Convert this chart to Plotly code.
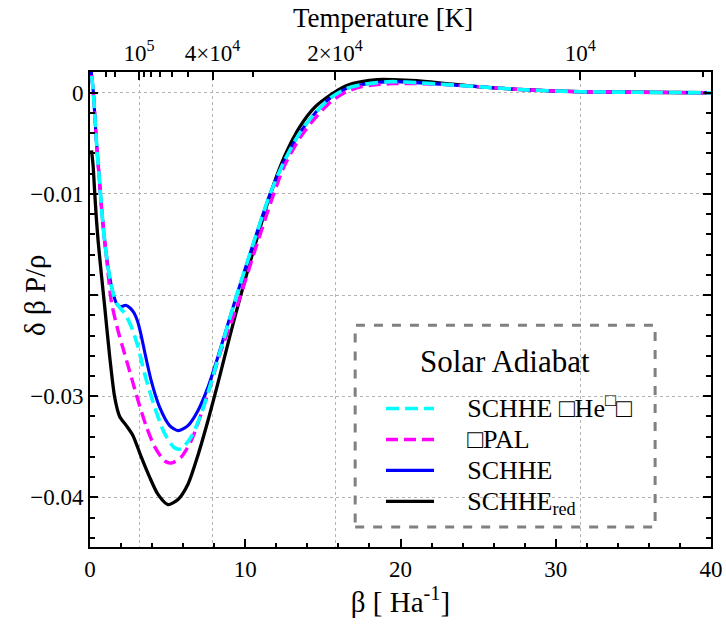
import plotly.graph_objects as go

# ---------------- data ----------------
beta_black = [0.1, 0.2, 0.3, 0.4, 0.52, 0.73, 0.95, 1.27, 1.59, 1.91, 2.34, 2.77, 3.3, 3.84, 4.38,
              5.02, 5.67, 6.31, 6.96, 7.6, 8.24, 9.0, 9.66, 10.6, 11.6, 12.5, 13.5, 14.5, 15.5,
              16.5, 17.5, 18.5, 19.5, 21, 23, 25, 28, 31.6, 35, 40]
y_black = [-0.0057, -0.0072, -0.0098, -0.0122, -0.0146, -0.0179, -0.0212, -0.0261, -0.0301, -0.0320,
           -0.0329, -0.0339, -0.0360, -0.0380, -0.0397, -0.0407, -0.0402, -0.0387, -0.0358, -0.0324,
           -0.0287, -0.0241, -0.0203, -0.0152, -0.0101, -0.0064, -0.0034, -0.0014, -0.0002,
           0.0007, 0.0011, 0.0013, 0.0013, 0.0012, 0.0009, 0.0006, 0.0003, 0.0001, 0.00005, 0.0]

beta_blue = [0.02, 0.1, 0.2, 0.3, 0.4, 0.5, 0.6, 0.75, 0.9, 1.1, 1.3, 1.5, 1.7, 1.85, 2.1, 2.3,
             2.6, 2.85, 3.09, 3.3, 3.52, 3.95, 4.49, 5.13, 5.67, 6.31, 6.96, 7.6, 8.24, 9.45,
             10.5, 11.6, 12.5, 13.5, 14.5, 15.5, 16.5, 17.5, 18.5, 19.5, 21, 23, 25, 28, 31.6, 35, 40]
y_blue = [0.0035, 0.0018, 0.0003, -0.0020, -0.0045, -0.0066, -0.0085, -0.0115, -0.0140, -0.0166,
          -0.0185, -0.0199, -0.0208, -0.0211, -0.0211, -0.0210, -0.0213, -0.0218, -0.0227, -0.0240,
          -0.0256, -0.0285, -0.0311, -0.0329, -0.0334, -0.0329, -0.0314, -0.0291, -0.0261, -0.0200,
          -0.0150, -0.0100, -0.0068, -0.0040, -0.0020, -0.0005, 0.0004, 0.0008, 0.0010, 0.0011,
          0.0010, 0.0008, 0.0006, 0.0003, 0.0001, 0.00005, 0.0]

beta_cyan = [0.02, 0.1, 0.2, 0.3, 0.4, 0.5, 0.6, 0.75, 0.9, 1.1, 1.3, 1.5, 1.7, 1.85, 2.0, 2.23,
             2.66, 3.09, 3.52, 4.17, 4.81, 5.45, 5.88, 6.52, 7.17, 7.81, 8.24, 9.45, 10.5, 11.6,
             12.5, 13.5, 14.5, 15.5, 16.5, 17.5, 18.5, 19.5, 21, 23, 25, 28, 31.6, 35, 40]
y_cyan = [0.0035, 0.0018, 0.0003, -0.0020, -0.0045, -0.0066, -0.0085, -0.0115, -0.0140, -0.0166,
          -0.0185, -0.0199, -0.0208, -0.0211, -0.0214, -0.0218, -0.0231, -0.0251, -0.0278, -0.0311,
          -0.0337, -0.0351, -0.0352, -0.0340, -0.0317, -0.0286, -0.0263, -0.0200, -0.0150, -0.0100,
          -0.0068, -0.0040, -0.0020, -0.0005, 0.0004, 0.0008, 0.0010, 0.0011, 0.0010, 0.0008,
          0.0006, 0.0003, 0.0001, 0.00005, 0.0]

beta_mag = [0.02, 0.1, 0.2, 0.3, 0.4, 0.5, 0.6, 0.75, 0.9, 1.1, 1.37, 1.8, 2.23, 2.66, 3.09, 3.63,
            4.17, 4.81, 5.24, 5.88, 6.52, 7.17, 7.81, 8.35, 9.6, 10.6, 11.7, 12.5, 13.5, 14.5,
            15.5, 16.5, 17.5, 18.5, 19.5, 21, 23, 25, 28, 31.6, 35, 40]
y_mag = [0.0035, 0.0018, 0.0003, -0.0020, -0.0045, -0.0066, -0.0085, -0.0115, -0.0140, -0.0168,
         -0.0206, -0.0235, -0.0258, -0.0281, -0.0304, -0.0330, -0.0350, -0.0364, -0.0366, -0.0360,
         -0.0344, -0.0317, -0.0287, -0.0259, -0.0205, -0.0157, -0.0106, -0.0073, -0.0045, -0.0025,
         -0.0009, 0.0001, 0.0006, 0.0008, 0.0009, 0.0009, 0.0008, 0.0006, 0.0003, 0.0001, 0.00005, 0.0]

names = ["SCHHE<sub>red</sub>", "SCHHE", "□PAL", "SCHHE □He<sup>□</sup>□"]
colors = ["black", "#0000ff", "#ff00ff", "#00ffff"]
legend_title = "Solar Adiabat"

x_ticks = [0, 10, 20, 30, 40]
y_ticks = [0, -0.01, -0.02, -0.03, -0.04]
y_ticktext = ["0", "−0.01", "", "−0.03", "−0.04"]

HA_IN_K = 315775.0  # 1 Ha / k_B in kelvin (beta = HA_IN_K / T)
T_major = [1e5, 4e4, 2e4, 1e4]
T_major_text = ["10<sup>5</sup>", "4×10<sup>4</sup>", "2×10<sup>4</sup>", "10<sup>4</sup>"]
T_minor = [3e5, 2e5, 9e4, 8e4, 7e4, 6e4, 5e4, 3e4, 9e3, 8e3]

FONT = "Liberation Serif, Times New Roman, Times, serif"
PAD = "\u2003\u200a"  # gap between legend line sample and label

fig = go.Figure()
series = [(beta_black, y_black, 3.3, "solid"),
          (beta_blue, y_blue, 3.1, "solid"),
          (beta_mag, y_mag, 3.4, "12px,6px"),
          (beta_cyan, y_cyan, 3.6, "13px,6px")]
for (bx, by, w, d), n, c in zip(series, names, colors):
    fig.add_trace(go.Scatter(x=bx, y=by, mode="lines",
                             name='<span style="font-size:26px">' + PAD + n + "</span>",
                             line=dict(color=c, width=w, dash=d, shape="spline", smoothing=0.7)))

# invisible trace to activate the top temperature axis
fig.add_trace(go.Scatter(x=[0, 40], y=[0, 0], xaxis="x2", mode="lines",
                         line=dict(width=0), showlegend=False, hoverinfo="skip", opacity=0))

axis_common = dict(showline=True, linecolor="black", linewidth=2, ticks="inside", automargin=False,
                   tickcolor="black", tickwidth=1.5, tickfont=dict(family=FONT, size=23, color="black"))

fig.update_layout(
    width=726, height=626,
    margin=dict(l=90, r=15, t=72, b=79),
    paper_bgcolor="white", plot_bgcolor="white",
    font=dict(family=FONT, color="black"),
    xaxis=dict(range=[0, 40], tickvals=x_ticks, ticklen=8, showgrid=False, zeroline=False,
               minor=dict(dtick=2, ticklen=4, ticks="inside", tickcolor="black", tickwidth=1.5),
               title=dict(text="β [ Ha<sup>-1</sup>]", font=dict(family=FONT, size=29), standoff=10),
               **axis_common),
    xaxis2=dict(range=[0, 40], overlaying="x", side="top", anchor="y",
                tickmode="array", tickvals=[HA_IN_K / t for t in T_major], ticktext=T_major_text,
                ticklen=8, showgrid=True, gridcolor="#b4b4b4", griddash="dot", gridwidth=1,
                zeroline=False,
                minor=dict(tickvals=[HA_IN_K / t for t in T_minor], ticklen=5, ticks="inside",
                           tickcolor="black", tickwidth=1.5),
                **axis_common),
    yaxis=dict(range=[-0.0449, 0.00205], tickmode="array", tickvals=y_ticks, ticktext=y_ticktext,
               ticklen=8, mirror="ticks", showgrid=True, gridcolor="#b4b4b4", griddash="dot",
               gridwidth=1, zeroline=False,
               minor=dict(dtick=0.002, tick0=0, ticklen=5, ticks="inside", tickcolor="black",
                          tickwidth=1.5),
               **axis_common),
    legend=dict(x=0.4686, y=0.3347, xanchor="left", yanchor="top", traceorder="reversed",
                bgcolor="rgba(0,0,0,0)", borderwidth=0, itemwidth=48,
                font=dict(family=FONT, size=21.5, color="black")),
    shapes=[dict(type="rect", xref="paper", yref="paper", x0=0.427, x1=0.91, y0=0.042, y1=0.467,
                 line=dict(color="#808080", width=3, dash="dash"), fillcolor="rgba(0,0,0,0)")],
    annotations=[
        dict(text="Temperature [K]", xref="paper", yref="paper", x=0.472, y=1, yshift=54,
             xanchor="center", yanchor="middle", showarrow=False,
             font=dict(family=FONT, size=27, color="black")),
        dict(text=legend_title, xref="paper", yref="paper", x=0.668, y=0.3895,
             xanchor="center", yanchor="middle", showarrow=False,
             font=dict(family=FONT, size=31, color="black")),
        dict(text="δ β P/ρ", xref="paper", yref="paper", x=0, y=0.5305, xshift=-55,
             xanchor="center", yanchor="middle", textangle=-90, showarrow=False,
             font=dict(family=FONT, size=29, color="black")),
    ],
    showlegend=True,
)

fig.write_html("out.html", config={"displayModeBar": False},
               post_script="document.body.style.margin='0px';")
